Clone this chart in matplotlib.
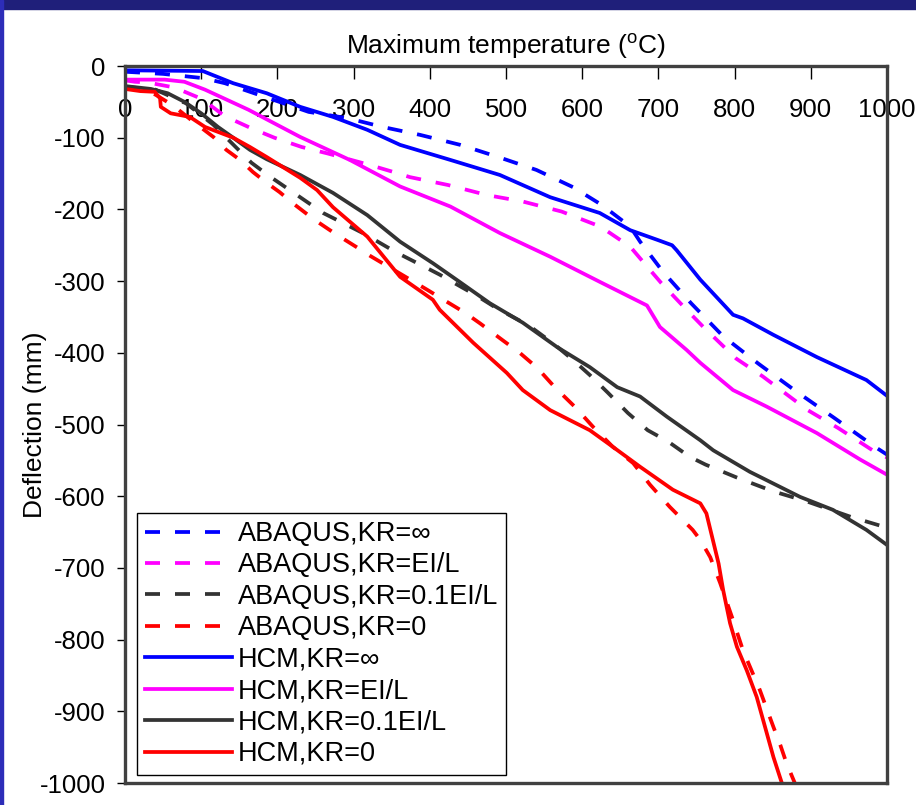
import numpy as np
import matplotlib.pyplot as plt
from matplotlib.patches import Rectangle

plt.rcParams['font.family'] = ['Liberation Sans', 'DejaVu Sans']
plt.rcParams['axes.unicode_minus'] = False

# ABAQUS results (dashed)
t_aba_inf = [0, 50, 103, 131, 164, 241, 293, 338, 387, 440, 490, 540, 588, 626, 663, 676, 706,
             743, 785, 831, 881, 931, 984, 1000]
d_aba_inf = [-8, -11, -17, -24, -36, -64, -73, -85, -96, -110, -127, -145, -169, -194, -224, -245, -287,
             -331, -377, -415, -454, -491, -531, -542]

t_aba_eil = [0, 13, 30, 65, 101, 131, 164, 196, 232, 266, 321, 356, 374, 424, 475, 522, 573, 624,
             663, 687, 704, 737, 759, 802, 837, 896, 936, 984, 1000]
d_aba_eil = [-20, -22, -23, -30, -46, -70, -86, -100, -113, -122, -138, -149, -155, -166, -180, -189, -203, -224,
             -252, -282, -303, -340, -364, -408, -433, -480, -505, -538, -546]

t_aba_01 = [0, 40, 80, 116, 166, 190, 223, 260, 314, 356, 393, 413, 441, 461, 488, 530, 562, 588,
            610, 634, 660, 686, 713, 741, 762, 803, 850, 894, 953, 994, 1000]
d_aba_01 = [-29, -33, -52, -82, -135, -154, -178, -205, -234, -260, -280, -291, -308, -320, -338, -362, -387, -410,
            -431, -456, -484, -508, -524, -545, -556, -574, -593, -607, -629, -642, -644]

t_aba_0 = [0, 20, 40, 63, 90, 116, 133, 151, 168, 186, 203, 221, 248, 276, 306, 322, 368, 398, 418,
           446, 466, 495, 518, 541, 564, 591, 614, 640, 667, 689, 715, 745, 755, 768, 781, 798, 811,
           833, 851, 860, 868, 879]
d_aba_0 = [-29, -32, -40, -55, -78, -99, -117, -131, -148, -163, -176, -192, -214, -234, -254, -265, -294, -313, -326,
           -344, -359, -382, -400, -421, -448, -476, -503, -531, -554, -584, -615, -647, -661, -685, -721, -773, -815,
           -870, -922, -947, -972, -1000]

# HCM results (solid)
t_hcm_inf = [0, 102, 142, 186, 230, 273, 318, 361, 427, 492, 558, 623, 663, 700, 718, 724, 755, 798,
             811, 851, 908, 973, 1000]
d_hcm_inf = [-6, -7, -24, -38, -57, -71, -89, -110, -131, -152, -183, -205, -229, -243, -250, -257, -298, -347,
             -352, -375, -406, -438, -460]

t_hcm_eil = [0, 52, 78, 105, 162, 230, 295, 361, 427, 492, 558, 623, 685, 702, 737, 755, 798, 842, 908, 965, 1000]
d_hcm_eil = [-19, -19, -22, -33, -61, -99, -131, -168, -196, -233, -266, -301, -334, -364, -396, -414, -452, -475,
             -512, -549, -570]

t_hcm_01 = [0, 34, 56, 78, 100, 122, 142, 164, 186, 230, 273, 318, 361, 404, 435, 479, 522, 567, 610,
            646, 676, 711, 755, 772, 820, 886, 929, 973, 1000]
d_hcm_01 = [-28, -32, -38, -50, -66, -85, -100, -117, -130, -152, -177, -208, -245, -275, -298, -331, -358, -392, -420,
            -448, -461, -489, -522, -536, -566, -601, -619, -647, -668]

t_hcm_0 = [0, 0, 20, 39, 46, 47, 60, 85, 105, 142, 164, 186, 230, 252, 273, 318, 361, 404, 413, 457,
           501, 522, 558, 610, 640, 676, 719, 755, 763, 779, 785, 794, 803, 816, 829, 840, 851, 862]
d_hcm_0 = [0, -32, -35, -36, -45, -57, -66, -71, -85, -100, -113, -127, -156, -173, -197, -238, -294, -326, -340, -386,
           -428, -452, -480, -508, -531, -559, -591, -610, -624, -694, -731, -777, -810, -843, -880, -922, -964, -1000]

blue = '#0000ff'
magenta = '#ff00ff'
grey = '#333333'
red = '#ff0000'

fig = plt.figure(figsize=(9.16, 8.05), dpi=100)
fig.patches.append(Rectangle((0, 1 - 9 / 805), 1, 9 / 805, transform=fig.transFigure, color='#1f1f7a', zorder=0))
fig.patches.append(Rectangle((0, 0), 3 / 916, 1, transform=fig.transFigure, color='#2d2db8', zorder=0))

ax = fig.add_axes([125 / 916, 22 / 805, 762 / 916, 717 / 805])

lw = 2.7
dash = (4, 4)
ax.plot(t_aba_inf, d_aba_inf, color=blue, lw=lw, dashes=dash, label='ABAQUS,KR=∞')
ax.plot(t_aba_eil, d_aba_eil, color=magenta, lw=lw, dashes=dash, label='ABAQUS,KR=EI/L')
ax.plot(t_aba_01, d_aba_01, color=grey, lw=lw, dashes=dash, label='ABAQUS,KR=0.1EI/L')
ax.plot(t_aba_0, d_aba_0, color=red, lw=lw, dashes=dash, label='ABAQUS,KR=0')
ax.plot(t_hcm_inf, d_hcm_inf, color=blue, lw=lw, label='HCM,KR=∞')
ax.plot(t_hcm_eil, d_hcm_eil, color=magenta, lw=lw, label='HCM,KR=EI/L')
ax.plot(t_hcm_01, d_hcm_01, color=grey, lw=lw, label='HCM,KR=0.1EI/L')
ax.plot(t_hcm_0, d_hcm_0, color=red, lw=lw, label='HCM,KR=0')

ax.set_xlim(0, 1000)
ax.set_ylim(-1000, 0)
ax.set_xticks(np.arange(0, 1001, 100))
ax.set_yticks(np.arange(-1000, 1, 100))

for s in ax.spines.values():
    s.set_color('#404040')
    s.set_linewidth(2.4)

ax.xaxis.tick_top()
ax.tick_params(axis='x', direction='in', length=9, width=1, pad=-40, labelsize=18.5, colors='black')
ax.tick_params(axis='y', direction='out', length=6, width=1, pad=8, labelsize=18.5)

ax.set_title('Maximum temperature ($^\\mathregular{o}$C)', fontsize=19, pad=9)
ax.set_ylabel('Deflection (mm)', fontsize=19)
ax.yaxis.set_label_coords(-0.103, 0.5)

leg = ax.legend(loc='lower left', bbox_to_anchor=(0.016, 0.011), fontsize=19.5, frameon=True,
                fancybox=False, edgecolor='black', framealpha=1, handlelength=3.2,
                handletextpad=0.22, labelspacing=0.2, borderpad=0.3, borderaxespad=0)
leg.get_frame().set_linewidth(1.0)

fig.savefig('out.png', dpi=100)
